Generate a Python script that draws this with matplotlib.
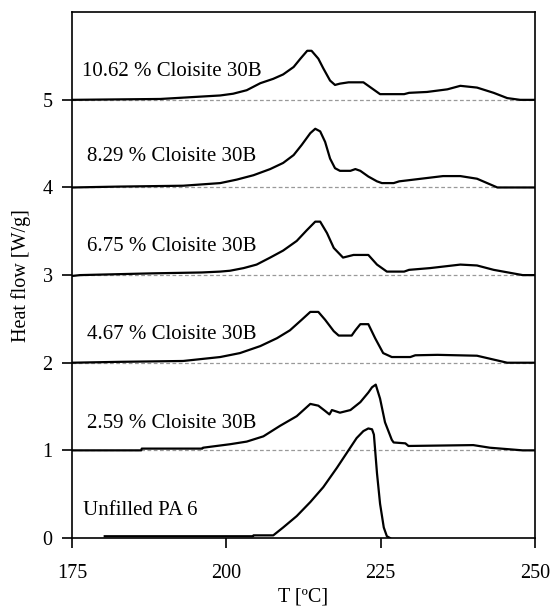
import matplotlib.pyplot as plt
import numpy as np

plt.rcParams["font.family"] = ["Liberation Serif", "DejaVu Serif"]

# DSC melting curves, each shifted by one unit (W/g)
T_pa6 = [180.3, 204.3, 204.4, 207.6, 209.2, 211.4, 213.6, 215.7, 217.9, 219.5, 221.1, 222.2, 223.0, 223.6, 223.9,
         224.4, 224.9, 225.5, 226.0, 226.5]
q_pa6 = [0.02, 0.02, 0.03, 0.03, 0.12, 0.25, 0.41, 0.58, 0.80, 0.97, 1.14, 1.22, 1.25, 1.24, 1.18,
         0.74, 0.39, 0.12, 0.02, 0.0]

T_259 = [175.0, 186.2, 186.3, 196.1, 196.2, 200.6, 203.3, 206.0, 208.7, 211.4, 213.6, 214.9, 216.0, 216.7, 217.1,
         218.4, 220.1, 221.7, 223.0, 223.6, 224.2, 224.9, 225.7, 226.8, 227.1, 229.0, 229.5, 240.0, 242.7, 248.0,
         250.0]
q_259 = [1.00, 1.00, 1.02, 1.02, 1.03, 1.07, 1.10, 1.16, 1.28, 1.39, 1.53, 1.51, 1.45, 1.41, 1.46,
         1.43, 1.46, 1.55, 1.66, 1.72, 1.75, 1.59, 1.32, 1.12, 1.09, 1.08, 1.05, 1.06, 1.03, 1.00,
         1.00]

T_467 = [175.0, 182.5, 193.0, 199.0, 202.2, 205.5, 208.2, 210.3, 212.2, 213.6, 214.9, 216.0, 217.4, 218.2, 220.3,
         220.9, 221.7, 223.0, 224.1, 225.4, 226.8, 229.8, 230.6, 234.2, 240.6, 245.5, 250.0]
q_467 = [2.00, 2.01, 2.02, 2.065, 2.11, 2.19, 2.28, 2.37, 2.49, 2.58, 2.58, 2.49, 2.36, 2.31, 2.31,
         2.37, 2.44, 2.44, 2.28, 2.11, 2.065, 2.065, 2.085, 2.09, 2.08, 2.00, 2.00]

T_675 = [175.0, 176.3, 188.0, 196.0, 199.0, 200.6, 202.8, 204.9, 207.1, 209.2, 211.4, 213.0, 214.4, 215.2, 216.3,
         217.4, 218.9, 220.6, 223.0, 224.4, 226.0, 228.8, 229.6, 233.0, 237.9, 240.6, 243.3, 248.0, 250.0]
q_675 = [2.99, 3.00, 3.02, 3.03, 3.04, 3.05, 3.08, 3.12, 3.20, 3.28, 3.39, 3.51, 3.61, 3.61, 3.48,
         3.31, 3.20, 3.23, 3.23, 3.12, 3.04, 3.04, 3.06, 3.08, 3.12, 3.11, 3.06, 3.00, 3.00]

T_829 = [175.0, 182.5, 193.0, 199.0, 201.7, 204.4, 207.1, 209.2, 210.9, 212.2, 213.6, 214.4, 215.2, 216.0, 216.8,
         217.6, 218.4, 220.1, 220.9, 221.7, 223.0, 224.4, 225.2, 227.1, 228.0, 229.2, 235.1, 237.9, 240.6, 243.9,
         250.0]
q_829 = [4.00, 4.01, 4.02, 4.05, 4.09, 4.14, 4.21, 4.28, 4.37, 4.485, 4.62, 4.67, 4.64, 4.52, 4.33,
         4.22, 4.19, 4.19, 4.21, 4.19, 4.125, 4.07, 4.05, 4.05, 4.07, 4.08, 4.13, 4.13, 4.10, 4.00,
         4.00]

T_1062 = [175.0, 189.3, 199.0, 201.1, 203.3, 205.5, 207.6, 209.2, 210.9, 212.0, 213.1, 213.8, 214.9, 215.7, 216.8,
          217.6, 218.4, 219.8, 222.2, 223.6, 224.9, 228.8, 229.6, 232.5, 235.8, 237.9, 240.6, 243.3, 245.5, 247.6,
          250.0]
q_1062 = [5.00, 5.01, 5.05, 5.07, 5.11, 5.19, 5.24, 5.29, 5.375, 5.47, 5.56, 5.56, 5.47, 5.36, 5.22,
          5.17, 5.185, 5.20, 5.20, 5.13, 5.065, 5.065, 5.08, 5.09, 5.12, 5.16, 5.14, 5.08, 5.02, 5.00,
          5.00]

labels = ["Unfilled PA 6", "2.59 % Cloisite 30B", "4.67 % Cloisite 30B",
          "6.75 % Cloisite 30B", "8.29 % Cloisite 30B", "10.62 % Cloisite 30B"]
label_T = [176.8, 177.4, 177.4, 177.4, 177.4, 176.6]
label_q = [0.31, 1.31, 2.32, 3.33, 4.35, 5.32]
baselines = [1, 2, 3, 4, 5]

fig = plt.figure(figsize=(5.51, 6.11), dpi=100)
ax = fig.add_axes([0.1307, 0.1195, 0.8403, 0.8605])

for b in baselines:
    ax.axhline(b, color="#999999", lw=0.9, ls=(0, (3, 2)), zorder=1)

curves = [(T_pa6, q_pa6), (T_259, q_259), (T_467, q_467),
          (T_675, q_675), (T_829, q_829), (T_1062, q_1062)]
for T, q in curves:
    ax.plot(T, q, color="black", lw=1.6, zorder=3)

for lab, x, y in zip(labels, label_T, label_q):
    ax.text(x, y, lab, ha="left", va="center", fontsize=15)

ax.set_xlim(175, 250)
ax.set_ylim(0, 6)
ax.set_xticks([175, 200, 225, 250])
ax.set_yticks(np.arange(0, 6))
ax.tick_params(direction="out", length=7, width=1.2, labelsize=14.5)
ax.tick_params(axis="x", pad=12)
ax.tick_params(axis="y", pad=7)
for s in ax.spines.values():
    s.set_linewidth(1.2)
ax.set_xlabel("T [ºC]", fontsize=14.5, labelpad=3)
ax.set_ylabel("Heat flow [W/g]", fontsize=14.5, labelpad=8)

fig.savefig("out.png", dpi=100)
